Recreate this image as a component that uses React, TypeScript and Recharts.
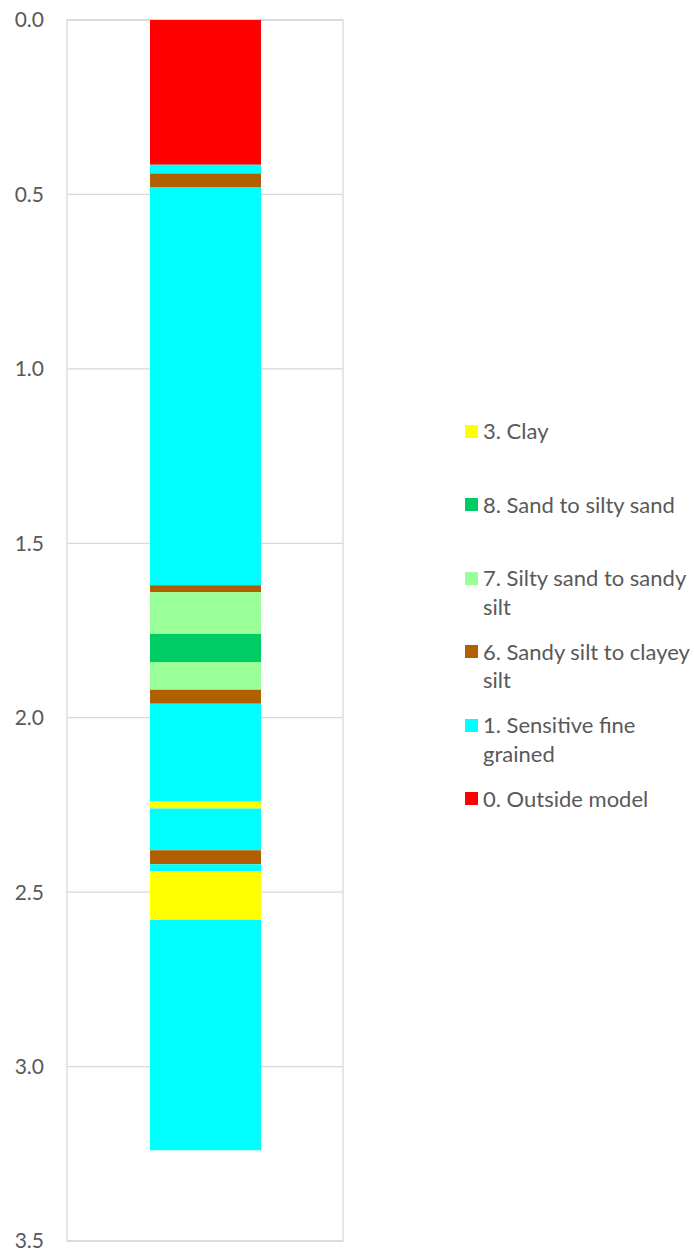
import React from 'react';
import {
  BarChart,
  Bar,
  XAxis,
  YAxis,
  CartesianGrid,
  ReferenceArea,
} from 'recharts';

// layers from the surface down, thickness in m and soil behaviour zone
const layerThickness = [0.415, 0.025, 0.04, 1.14, 0.02, 0.12, 0.08, 0.08, 0.04, 0.28, 0.02, 0.12, 0.04, 0.02, 0.14, 0.66];
const layerZone = [0, 1, 6, 1, 6, 7, 8, 7, 6, 1, 3, 1, 6, 1, 3, 1];

// legend order as in the sheet
const zoneIds = [3, 8, 7, 6, 1, 0];
const zoneNames = [
  '3. Clay',
  '8. Sand to silty sand',
  '7. Silty sand to sandy silt',
  '6. Sandy silt to clayey silt',
  '1. Sensitive fine grained',
  '0. Outside model',
];
const zoneColors = ['#FFFF00', '#00CC66', '#99FF99', '#B06000', '#00FFFF', '#FF0000'];

const depthTicks = [0, 0.5, 1, 1.5, 2, 2.5, 3, 3.5];

const colorOf = (zone: number) => zoneColors[zoneIds.indexOf(zone)];

const row: Record<string, string | number> = { name: 'CPT' };
layerThickness.forEach((t, i) => {
  row[`layer${i}`] = t;
});
const data = [row];

const FONT = 'Lato, "Open Sans", sans-serif';
const TEXT = '#595959';

function ZoneLegend() {
  return (
    <div
      style={{
        position: 'absolute',
        left: 465,
        top: 417,
        fontFamily: FONT,
        fontSize: 22,
        color: TEXT,
      }}
    >
      {zoneIds.map((id, i) => (
        <div key={id} style={{ display: 'flex', alignItems: 'flex-start', height: 73.6 }}>
          <div
            style={{
              width: 13,
              height: 13,
              background: zoneColors[i],
              marginTop: 7.5,
              marginRight: 5,
              flexShrink: 0,
            }}
          />
          <div style={{ width: 214, lineHeight: '28.5px' }}>{zoneNames[i]}</div>
        </div>
      ))}
    </div>
  );
}

export default function App() {
  return (
    <div style={{ position: 'absolute', left: 0, top: 0, width: 694, height: 1249, background: '#fff' }}>
      <BarChart
        width={694}
        height={1249}
        data={data}
        margin={{ top: 20, right: 351, bottom: 8, left: 0 }}
        barSize={111}
      >
        <CartesianGrid vertical={false} stroke="#D9D9D9" strokeWidth={1.3} />
        <XAxis dataKey="name" hide />
        <YAxis
          type="number"
          reversed
          domain={[0, 3.5]}
          ticks={depthTicks}
          interval={0}
          width={67}
          axisLine={false}
          tickLine={false}
          tickSize={0}
          tickMargin={23}
          tickFormatter={(v: number) => v.toFixed(1)}
          tick={{ fill: TEXT, fontSize: 21, fontFamily: FONT }}
        />
        {layerThickness.map((_, i) => (
          <Bar
            key={i}
            dataKey={`layer${i}`}
            stackId="log"
            fill={colorOf(layerZone[i])}
            isAnimationActive={false}
          />
        ))}
        <ReferenceArea y1={0} y2={3.5} fill="none" stroke="#D9D9D9" strokeWidth={1.3} ifOverflow="visible" />
      </BarChart>
      <ZoneLegend />
    </div>
  );
}
